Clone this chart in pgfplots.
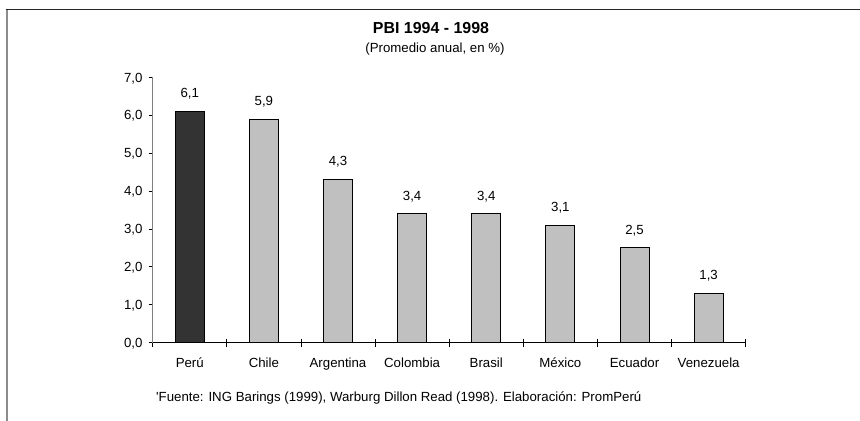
\documentclass[border=0pt]{standalone}
\usepackage{pgfplots}
\pgfplotsset{compat=1.18}
\usepackage{fontspec}
\setmainfont{Liberation Sans}

\definecolor{peru}{HTML}{333333}
\definecolor{barsilver}{HTML}{C0C0C0}
\definecolor{frameleft}{HTML}{8C8C8C}
\newcommand{\chartfont}{\fontsize{13.3}{16}\selectfont}

\begin{document}
\begin{tikzpicture}
\useasboundingbox (0,0) rectangle (860bp,421bp);
% frame (only top and left edges visible)
\draw[frameleft, line width=2bp] (6.5bp,-5bp) -- (6.5bp,411.5bp);
\draw[black!85, line width=1.5bp] (5.5bp,411.5bp) -- (870bp,411.5bp);
% titles
\node[font=\fontsize{16}{19}\selectfont\bfseries, anchor=base] at (431bp,387bp) {PBI 1994 - 1998};
\node[font=\chartfont, anchor=base] at (435bp,368.3bp) {(Promedio anual, en \%)};
\node[font=\chartfont, anchor=base west, inner sep=0pt] at (156bp,20bp)
  {\textquotesingle Fuente: ING Barings (1999), Warburg Dillon Read (1998). Elaboración: PromPerú};

\begin{axis}[
  at={(152.7bp,78.3bp)}, anchor=south west,
  scale only axis, width=593bp, height=265.4bp,
  xmin=-0.5, xmax=7.5, ymin=0, ymax=7,
  axis lines*=left,
  x axis line style={black, line width=0.9bp},
  y axis line style={gray, line width=0.9bp},
  tick align=outside,
  major tick length=4bp,
  ytick={0,...,7},
  xtick={0,...,7},
  xticklabels={Perú,Chile,Argentina,Colombia,Brasil,México,Ecuador,Venezuela},
  major x tick style={draw=none},
  minor xtick={-0.5,0.5,...,7.5},
  minor tick length=8bp,
  minor x tick style={black, line width=0.8bp, yshift=4bp},
  major y tick style={black, line width=0.8bp},
  tick label style={font=\chartfont},
  xticklabel style={anchor=base, yshift=-20.6bp},
  yticklabel style={anchor=base east, yshift=-4.75bp, inner sep=0pt, xshift=-6bp},
  /pgf/number format/.cd, assume math mode=true, use comma, fixed, fixed zerofill, precision=1,
  /pgfplots/.cd,
  ybar, bar width=29bp, bar shift=0pt,
  nodes near coords,
  nodes near coords style={font=\chartfont, anchor=base, yshift=13.7bp, inner sep=0pt},
]
\addplot[fill=peru, draw=black, line width=0.9bp] coordinates {(0,6.1)};
\addplot[fill=barsilver, draw=black, line width=0.9bp] coordinates
  {(1,5.9) (2,4.3) (3,3.4) (4,3.4) (5,3.1) (6,2.5) (7,1.3)};
\end{axis}
\end{tikzpicture}
\end{document}
